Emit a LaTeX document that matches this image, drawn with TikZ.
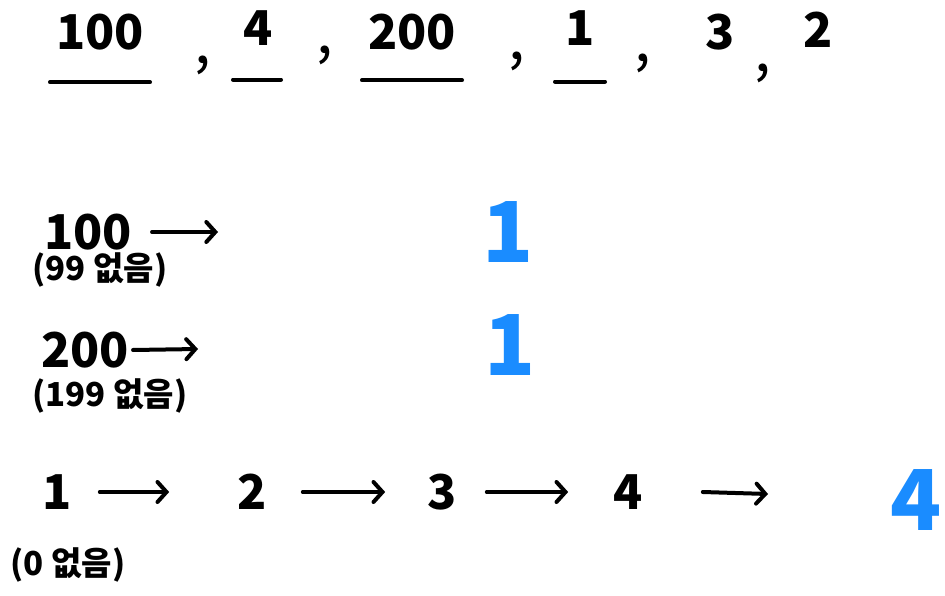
\documentclass[tikz,border=0pt]{standalone}
\usepackage{fontspec}
\setmainfont{Noto Sans CJK KR}
\usetikzlibrary{arrows.meta}
\definecolor{answer}{HTML}{1A8CFF}

\begin{document}
\begin{tikzpicture}
  [x=1pt, y=-1pt,
   every node/.style={inner sep=0pt, font=\fontsize{48}{52}\selectfont\bfseries},
   sep/.style={text height=0pt, text depth=0pt, font=\fontsize{60}{64}\selectfont},
   note/.style={font=\fontsize{33}{36}\selectfont\bfseries},
   ans/.style={text=answer, font=\fontsize{84}{88}\selectfont\bfseries},
   pen/.style={line width=4pt, line cap=round},
   go/.style={pen, -{Straight Barb[length=9pt, width=20pt, line cap=round]}}]
  \useasboundingbox (0,0) rectangle (945,596);

  % the sequence
  \node (s100) at (100,32) {100};
  \node[sep] (c1) at (203,64) {,};
  \node (s4) at (258,28) {4};
  \node[sep] (c2) at (325,54) {,};
  \node (s200) at (412,32) {200};
  \node[sep] (c3) at (517,60) {,};
  \node (s1) at (580,28) {1};
  \node[sep] (c4) at (643,62) {,};
  \node (s3) at (720,32) {3};
  \node[sep] (c5) at (763,72) {,};
  \node (s2) at (818,30) {2};
  \draw[pen] (s100.south) ++(-50,32) -- ++(100,0);
  \draw[pen] (s4.south) ++(-25,34) -- ++(48,0);
  \draw[pen] (s200.south) ++(-50,30) -- ++(100,0);
  \draw[pen] (s1.south) ++(-25,36) -- ++(50,0);

  % starting at 100
  \node (a100) at (88,232) {100};
  \node[note] (a100n) at (100,270) {(99 없음)};
  \coordinate (a100e) at (218,232);
  \draw[go] ([xshift=20]a100.east) -- (a100e);
  \node[ans] (a100r) at (508,232) {1};

  % starting at 200
  \node (a200) at (85,350) {200};
  \node[note] (a200n) at (110,396) {(199 없음)};
  \coordinate (a200e) at (198,349);
  \draw[go] ([xshift=4]a200.east) -- (a200e);
  \node[ans] (a200r) at (510,345) {1};

  % starting at 1
  \node (b1) at (57,492) {1};
  \node (b2) at (252,492) {2};
  \node (b3) at (442,492) {3};
  \node (b4) at (628,492) {4};
  \node[note] (b1n) at (68,565) {(0 없음)};
  \coordinate (b4e) at (768,494);
  \draw[go, shorten <=28pt, shorten >=68pt] (b1) -- (b2);
  \draw[go, shorten <=36pt, shorten >=42pt] (b2) -- (b3);
  \draw[go, shorten <=30pt, shorten >=45pt] (b3) -- (b4);
  \draw[go] ([xshift=60]b4.east) -- (b4e);
  \node[ans] (b1r) at (916,500) {4};
\end{tikzpicture}
\end{document}
